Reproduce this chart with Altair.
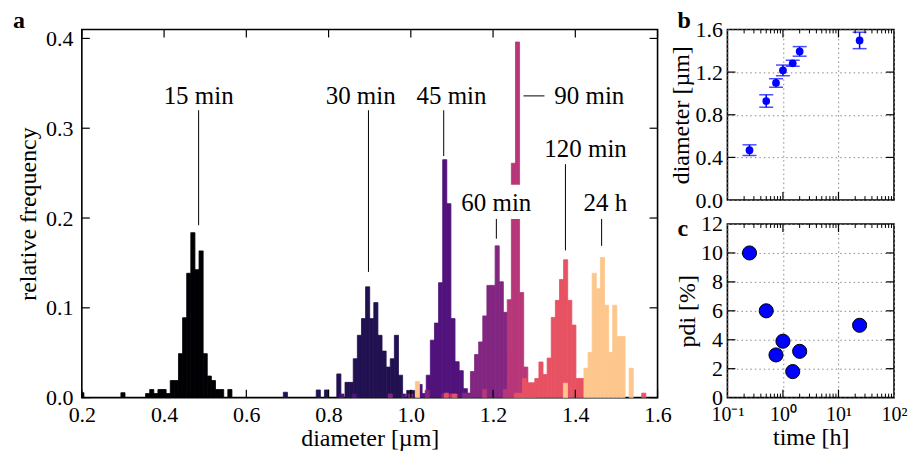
import altair as alt
import pandas as pd

FONT = "Liberation Serif"

# ---------------- panel a: size distributions ----------------
series_names = ["15 min", "30 min", "45 min", "60 min", "90 min", "120 min", "24 h"]
series_colors = ["#000004", "#221150", "#51127c", "#822681", "#b73779", "#e75263", "#fdc68c"]
bin_width = 0.01

# left edge of the first bin of each series' main run (diameter, um)
run_start = [0.355, 0.77, 1.0175, 1.125, 1.2245, 1.2515, 1.421]

freq_15min = [0.0045, 0.009, 0.0045, 0.009, 0.009, 0.0045, 0.019, 0.019, 0.049, 0.089,
              0.1385, 0.1837, 0.1425, 0.1634, 0.049, 0.024, 0.019, 0.009, 0.009, 0.0, 0.009]
freq_30min = [0.0085, 0.0, 0.0085, 0.0, 0.0, 0.0264, 0.0, 0.017, 0.017, 0.0433, 0.0694, 0.088,
              0.1234, 0.088, 0.1058, 0.0694, 0.0518, 0.034, 0.0433, 0.0694, 0.025, 0.0, 0.008, 0.008]
freq_45min = [0.0147, 0.0045, 0.025, 0.064, 0.083, 0.128, 0.265, 0.216, 0.088, 0.040, 0.030,
              0.010, 0.0045]
freq_60min = [0.005, 0.005, 0.029, 0.048, 0.062, 0.091, 0.125, 0.125, 0.169, 0.129, 0.095,
              0.05, 0.02, 0.01, 0.005]
freq_90min = [0.009, 0.109, 0.261, 0.396, 0.117, 0.034, 0.012, 0.006]
freq_120min = [0.005, 0.005, 0.0213, 0.0165, 0.0165, 0.0213, 0.0397, 0.0257, 0.044, 0.0893,
               0.1083, 0.1315, 0.1535, 0.1083, 0.0808, 0.0213, 0.0213]
freq_24h = [0.0327, 0.0503, 0.1385, 0.1212, 0.156, 0.1028, 0.0503, 0.1028, 0.068, 0.068, 0.0, 0.0327]

# isolated bins away from each main run: (left edge, relative frequency)
stray_15min = [(0.195, 0.0055), (0.295, 0.0055)]
stray_30min = [(0.69, 0.006)]
stray_45min = [(0.8275, 0.004), (0.8575, 0.004), (0.9775, 0.004)]
stray_60min = [(0.945, 0.004), (0.995, 0.004), (1.035, 0.008), (1.075, 0.004), (1.105, 0.004)]
stray_90min = [(1.0945, 0.004), (1.1745, 0.009)]
stray_120min = [(1.0815, 0.005), (1.1015, 0.004), (1.5615, 0.005)]
stray_24h = [(1.011, 0.018), (1.371, 0.016)]

all_freqs = [freq_15min, freq_30min, freq_45min, freq_60min, freq_90min, freq_120min, freq_24h]
all_strays = [stray_15min, stray_30min, stray_45min, stray_60min, stray_90min, stray_120min, stray_24h]

rows = []
for k, (name, start, freqs, strays) in enumerate(zip(series_names, run_start, all_freqs, all_strays)):
    for left, f in strays:
        rows.append({"series": name, "k": k, "left": left, "right": left + bin_width, "freq": f, "base": 0.0})
    for i, f in enumerate(freqs):
        if f > 0:
            left = start + i * bin_width
            rows.append({"series": name, "k": k, "left": left, "right": left + bin_width, "freq": f, "base": 0.0})
hist_df = pd.DataFrame(rows)

# annotations (diameter / frequency units)
ann_label = ["15 min", "30 min", "45 min", "60 min", "120 min", "24 h"]
ann_text_x = [0.484, 0.878, 1.099, 1.208, 1.425, 1.473]
ann_text_y = [0.336, 0.336, 0.336, 0.217, 0.277, 0.217]
ann_line_x = [0.484, 0.897, 1.080, 1.208, 1.376, 1.464]
ann_line_top = [0.320, 0.320, 0.320, 0.199, 0.260, 0.199]
ann_line_bottom = [0.192, 0.140, 0.269, 0.177, 0.164, 0.169]
lab90 = "90 min"
lab90_x, lab90_y = 1.349, 0.336
lead90_x = [1.274, 1.325]
box60_x = [1.112, 1.303]
box60_y = [0.199, 0.237]

xa_ticks = [0.2, 0.4, 0.6, 0.8, 1.0, 1.2, 1.4, 1.6]
ya_ticks = [0.0, 0.1, 0.2, 0.3, 0.4]

# ---------------- panels b, c ----------------
time_h = [0.25, 0.5, 0.75, 1.0, 1.5, 2.0, 24.0]
diameter_um = [0.468, 0.929, 1.098, 1.216, 1.282, 1.394, 1.497]
diameter_err = [0.05, 0.058, 0.04, 0.05, 0.028, 0.045, 0.077]
pdi_pct = [10.0, 6.0, 2.95, 3.9, 1.8, 3.2, 5.0]

log_major = [0.1, 1, 10, 100]
log_minor = [0.2, 0.3, 0.4, 0.5, 0.6, 0.7, 0.8, 0.9, 2, 3, 4, 5, 6, 7, 8, 9,
             20, 30, 40, 50, 60, 70, 80, 90]
yb_ticks = [0.0, 0.4, 0.8, 1.2, 1.6]
yc_ticks = [0, 2, 4, 6, 8, 10, 12]

W_A, H_A = 577, 369
W_B, H_B, H_C = 167, 171, 174
TICK = 8
MINOR = 4
LABEL_SIZE = 22
TITLE_SIZE = 24
ANN_SIZE = 25
GRID = dict(gridColor="#8a8a8a", gridDash=[1.5, 3], gridWidth=1)
NOFLUSH = dict(labelFlush=False, labelOverlap=False)

# scales and axes (the same objects are reused by every layer of a panel)
xa = alt.Scale(domain=[0.2, 1.6], nice=False, zero=False, padding=0)
ya = alt.Scale(domain=[0, 0.41], nice=False, zero=False, padding=0)
ax_xa = alt.Axis(values=xa_ticks, format=".1f", tickSize=0, domain=False, grid=False,
                 labelPadding=7, title="diameter [µm]", titlePadding=1, **NOFLUSH)
ax_ya = alt.Axis(values=ya_ticks, format=".1f", tickSize=0, domain=False, grid=False,
                 labelPadding=9, title="relative frequency", titlePadding=5, **NOFLUSH)

xl = alt.Scale(type="log", domain=[0.1, 100], nice=False, padding=0)
yb = alt.Scale(domain=[0, 1.6], nice=False, zero=False, padding=0)
yc = alt.Scale(domain=[0, 12], nice=False, zero=False, padding=0)
ax_xb = alt.Axis(values=log_major, labels=False, ticks=False, domain=False, grid=True, title=None, **GRID)
ax_yb = alt.Axis(values=yb_ticks, format=".1f", tickSize=0, domain=False, grid=True, labelPadding=5,
                 title="diameter [µm]", titlePadding=1, **GRID, **NOFLUSH)
ax_xc = alt.Axis(values=log_major, tickSize=0, domain=False, grid=True, labelPadding=7, title="time [h]",
                 titlePadding=1, labelFontSize=20,
                 labelExpr="datum.value < 0.5 ? '10⁻¹' : datum.value < 5 ? '10⁰' : datum.value < 50 ? '10¹' : '10²'",
                 **GRID, **NOFLUSH)
ax_yc = alt.Axis(values=yc_ticks, tickSize=0, domain=False, grid=True, labelPadding=5, title="pdi [%]",
                 titlePadding=1, **GRID, **NOFLUSH)


def xrules(values, scale, axis, y0, y1, w=1.2):
    return alt.Chart(pd.DataFrame({"v": values})).mark_rule(color="black", strokeWidth=w).encode(
        x=alt.X("v:Q", scale=scale, axis=axis), y=alt.value(y0), y2=alt.value(y1))


def yrules(values, scale, axis, x0, x1, w=1.2):
    return alt.Chart(pd.DataFrame({"v": values})).mark_rule(color="black", strokeWidth=w).encode(
        y=alt.Y("v:Q", scale=scale, axis=axis), x=alt.value(x0), x2=alt.value(x1))


def letter(txt, x, y):
    return alt.Chart(pd.DataFrame({"t": [txt]})).mark_text(
        font=FONT, fontSize=24, fontWeight="bold", align="left", baseline="alphabetic", color="black"
    ).encode(text="t:N", x=alt.value(x), y=alt.value(y))


# ---- panel a
cscale = alt.Scale(domain=series_names, range=series_colors)

hist = alt.Chart(hist_df).mark_rect(clip=True, strokeWidth=0.8).encode(
    x=alt.X("left:Q", scale=xa, axis=ax_xa),
    x2="right:Q",
    y=alt.Y("freq:Q", scale=ya, axis=ax_ya),
    y2="base:Q",
    color=alt.Color("series:N", scale=cscale, legend=None),
    stroke=alt.Stroke("series:N", scale=cscale, legend=None),
    order=alt.Order("k:Q"),
)

ann_df = pd.DataFrame({"label": ann_label, "tx": ann_text_x, "ty": ann_text_y,
                       "lx": ann_line_x, "l1": ann_line_top, "l2": ann_line_bottom})
box = alt.Chart(pd.DataFrame({"x1": [box60_x[0]], "x2": [box60_x[1]], "y1": [box60_y[0]], "y2": [box60_y[1]]})
                ).mark_rect(color="white").encode(
    x=alt.X("x1:Q", scale=xa, axis=ax_xa), x2="x2:Q",
    y=alt.Y("y1:Q", scale=ya, axis=ax_ya), y2="y2:Q")
ann_lines = alt.Chart(ann_df).mark_rule(color="black", strokeWidth=1).encode(
    x=alt.X("lx:Q", scale=xa, axis=ax_xa), y=alt.Y("l1:Q", scale=ya, axis=ax_ya), y2="l2:Q")
ann_text = alt.Chart(ann_df).mark_text(font=FONT, fontSize=ANN_SIZE, align="center", baseline="middle",
                                       color="black").encode(
    x=alt.X("tx:Q", scale=xa, axis=ax_xa), y=alt.Y("ty:Q", scale=ya, axis=ax_ya), text="label:N")
lead90 = alt.Chart(pd.DataFrame({"x1": [lead90_x[0]], "x2": [lead90_x[1]], "y": [lab90_y]})).mark_rule(
    color="black", strokeWidth=1).encode(
    x=alt.X("x1:Q", scale=xa, axis=ax_xa), x2="x2:Q", y=alt.Y("y:Q", scale=ya, axis=ax_ya))
text90 = alt.Chart(pd.DataFrame({"label": [lab90], "x": [lab90_x], "y": [lab90_y]})).mark_text(
    font=FONT, fontSize=ANN_SIZE, align="left", baseline="middle", color="black").encode(
    x=alt.X("x:Q", scale=xa, axis=ax_xa), y=alt.Y("y:Q", scale=ya, axis=ax_ya), text="label:N")

panel_a = alt.layer(
    hist, box, ann_lines, lead90, ann_text, text90,
    xrules(xa_ticks, xa, ax_xa, H_A, H_A - TICK), xrules(xa_ticks, xa, ax_xa, 0, TICK),
    yrules(ya_ticks, ya, ax_ya, 0, TICK), yrules(ya_ticks, ya, ax_ya, W_A - TICK, W_A),
    letter("a", -69, -1),
).properties(width=W_A, height=H_A)

# ---- panel b
bc_df = pd.DataFrame({"t": time_h, "d": diameter_um,
                      "lo": [d - e for d, e in zip(diameter_um, diameter_err)],
                      "hi": [d + e for d, e in zip(diameter_um, diameter_err)],
                      "pdi": pdi_pct})

b_pts = alt.Chart(bc_df).mark_circle(size=60, color="blue", opacity=1).encode(
    x=alt.X("t:Q", scale=xl, axis=ax_xb), y=alt.Y("d:Q", scale=yb, axis=ax_yb))
b_err = alt.Chart(bc_df).mark_rule(color="blue", strokeWidth=1.5).encode(
    x=alt.X("t:Q", scale=xl, axis=ax_xb), y=alt.Y("lo:Q", scale=yb, axis=ax_yb), y2="hi:Q")
b_cap_lo = alt.Chart(bc_df).mark_tick(color="blue", orient="horizontal", size=14, thickness=1.5).encode(
    x=alt.X("t:Q", scale=xl, axis=ax_xb), y=alt.Y("lo:Q", scale=yb, axis=ax_yb))
b_cap_hi = alt.Chart(bc_df).mark_tick(color="blue", orient="horizontal", size=14, thickness=1.5).encode(
    x=alt.X("t:Q", scale=xl, axis=ax_xb), y=alt.Y("hi:Q", scale=yb, axis=ax_yb))

panel_b = alt.layer(
    b_pts, b_err, b_cap_lo, b_cap_hi,
    xrules(log_major[1:3], xl, ax_xb, H_B, H_B - TICK), xrules(log_major[1:3], xl, ax_xb, 0, TICK),
    xrules(log_minor, xl, ax_xb, H_B, H_B - MINOR, 1), xrules(log_minor, xl, ax_xb, 0, MINOR, 1),
    yrules(yb_ticks[1:4], yb, ax_yb, 0, TICK), yrules(yb_ticks[1:4], yb, ax_yb, W_B - TICK, W_B),
    letter("b", -50, -1),
).properties(width=W_B, height=H_B)

# ---- panel c
c_pts = alt.Chart(bc_df).mark_circle(size=200, fill="blue", stroke="black", strokeWidth=1, opacity=1).encode(
    x=alt.X("t:Q", scale=xl, axis=ax_xc), y=alt.Y("pdi:Q", scale=yc, axis=ax_yc))
panel_c = alt.layer(
    c_pts,
    xrules(log_major[1:3], xl, ax_xc, H_C, H_C - TICK), xrules(log_major[1:3], xl, ax_xc, 0, TICK),
    xrules(log_minor, xl, ax_xc, H_C, H_C - MINOR, 1), xrules(log_minor, xl, ax_xc, 0, MINOR, 1),
    yrules(yc_ticks[1:6], yc, ax_yc, 0, TICK), yrules(yc_ticks[1:6], yc, ax_yc, W_B - TICK, W_B),
    letter("c", -50, 12),
).properties(width=W_B, height=H_C)

right_col = alt.vconcat(panel_b, panel_c, spacing=24, bounds="flush")
chart = alt.hconcat(panel_a, right_col, spacing=70, bounds="flush").configure_view(
    stroke="black", strokeWidth=1.6
).configure_axis(
    labelFont=FONT, titleFont=FONT, labelFontSize=LABEL_SIZE, titleFontSize=TITLE_SIZE,
    labelColor="black", titleColor="black", titleFontWeight="normal"
).properties(padding={"left": 4, "top": 0, "right": 0, "bottom": 0})

chart.save("out.html", embed_options={"renderer": "svg", "actions": False})
